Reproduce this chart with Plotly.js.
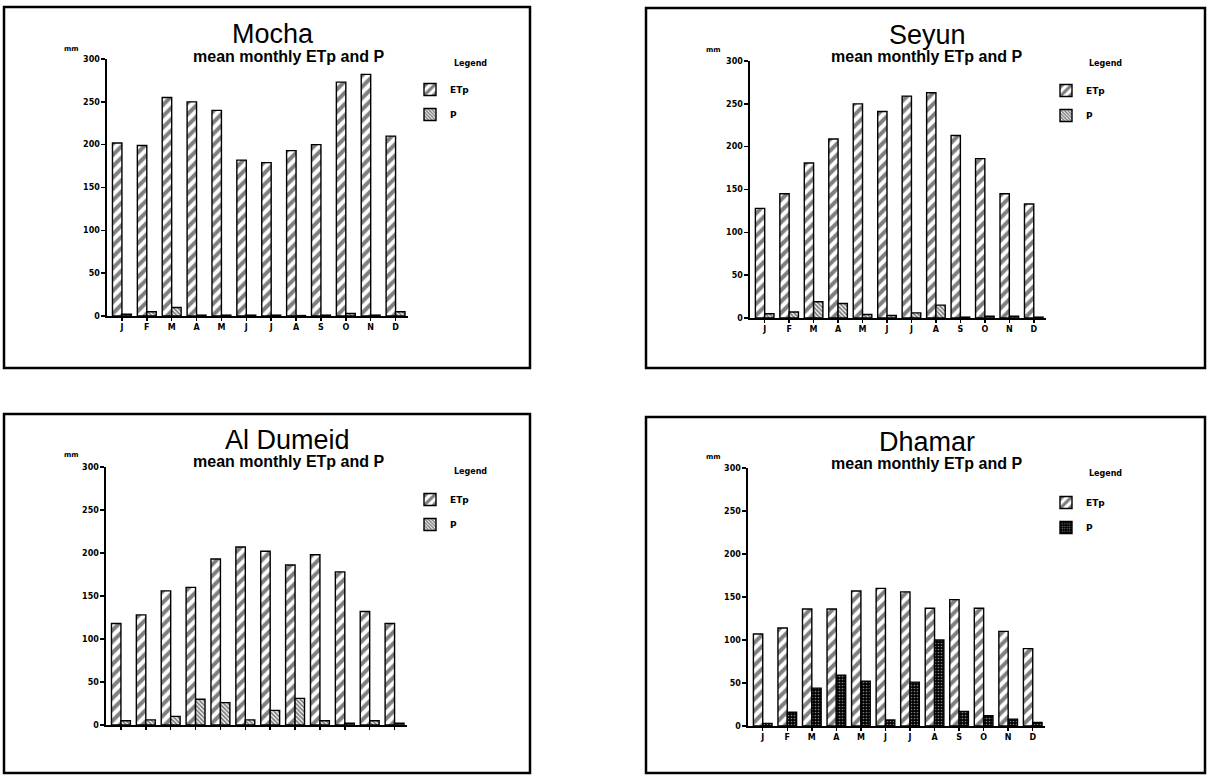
<!DOCTYPE html>
<html>
<head>
<meta charset="utf-8">
<script src="https://cdn.plot.ly/plotly-3.0.1.min.js"></script>
<style>
html,body{margin:0;padding:0;background:#fff;}
#chart{width:1209px;height:775px;}
</style>
</head>
<body>
<div id="chart"></div>
<script>
// ---- data ----
const months = ['J','F','M','A','M','J','J','A','S','O','N','D'];
const yTicks = [0,50,100,150,200,250,300];

const mochaETp = [202,199,255,250,240,182,179,193,200,273,282,210];
const mochaP   = [2,5,10,1,1,1,1,0.5,1,3,1,5];

const seyunETp = [128,145,181,209,250,241,259,263,213,186,145,133];
const seyunP   = [5,7,19,17,4,3,6,15,1,2,2,1];

const dumeidETp = [118,128,156,160,193,207,202,186,198,178,132,118];
const dumeidP   = [5,6,10,30,26,6,17,31,5,2,5,2];

const dhamarETp = [107,114,136,136,157,160,156,137,147,137,110,90];
const dhamarP   = [3,16,44,59,52,7,51,100,17,12,8,4];

const stations = ['Mocha','Seyun','Al Dumeid','Dhamar'];
const subtitle = 'mean monthly ETp and P';
const unitLabel = 'mm';
const legendLabel = 'Legend';

// ---- layout helpers ----
const W = 1209, H = 775;
const px = v => v / W;
const py = v => 1 - v / H;
const idx = months.map((m, i) => i);

const FONT = 'DejaVu Sans';
const hatchP = {color: '#fff', pattern: {shape: '\\', fgcolor: '#000', size: 3, solidity: 0.6, fillmode: 'overlay'}};
const dotP = {color: '#000', pattern: {shape: '.', fgcolor: '#fff', size: 3, solidity: 0.25, fillmode: 'overlay'}};

const panels = [
  {name: stations[0], etp: mochaETp, p: mochaP, x0: 107, x1: 408, yTop: 59, yBot: 316,
   box: [4, 7, 530, 368], title: [273, 34], sub: [288, 56], mm: [71, 49], leg: [410, 75], legT: [452, 63],
   labels: true, pStyle: hatchP},
  {name: stations[1], etp: seyunETp, p: seyunP, x0: 750, x1: 1046, yTop: 61, yBot: 318,
   box: [646, 8, 1205, 368], title: [927, 35], sub: [926, 57], mm: [713, 50], leg: [1046, 76], legT: [1087, 64],
   labels: true, pStyle: hatchP},
  {name: stations[2], etp: dumeidETp, p: dumeidP, x0: 106, x1: 407, yTop: 467, yBot: 725,
   box: [4, 414, 530, 773], title: [287, 440], sub: [288, 462], mm: [71, 455], leg: [410, 485], legT: [452, 471],
   labels: false, pStyle: hatchP},
  {name: stations[3], etp: dhamarETp, p: dhamarP, x0: 748, x1: 1045, yTop: 468, yBot: 726,
   box: [646, 417, 1205, 773], title: [927, 442], sub: [926, 463], mm: [713, 457], leg: [1046, 488], legT: [1087, 474],
   labels: true, pStyle: dotP}
];

const data = [];
const layout = {
  width: W, height: H,
  margin: {l: 0, r: 0, t: 0, b: 0},
  paper_bgcolor: '#fff', plot_bgcolor: 'rgba(0,0,0,0)',
  barmode: 'group', bargap: 0.24, bargroupgap: 0,
  font: {family: FONT, color: '#000'},
  shapes: [], annotations: []
};

panels.forEach((pn, k) => {
  const n = k === 0 ? '' : String(k + 1);
  const xa = 'x' + n, ya = 'y' + n;
  const leg = 'legend' + n;

  layout['xaxis' + n] = {
    domain: [px(pn.x0), px(pn.x1)], range: [-0.6, 11.5], anchor: ya,
    tickmode: 'array', tickvals: idx, ticktext: pn.labels ? months : months.map(() => ''),
    ticks: 'outside', ticklen: 3, tickwidth: 1.5, tickcolor: '#000',
    showline: true, linecolor: '#000', linewidth: 1.6,
    showgrid: false, zeroline: false, fixedrange: true,
    tickfont: {family: FONT, size: 8, weight: 'bold', color: '#000'}
  };
  layout['yaxis' + n] = {
    domain: [py(pn.yBot), py(pn.yTop)], range: [0, 300], anchor: xa,
    tickmode: 'array', tickvals: yTicks,
    ticks: 'outside', ticklen: 4, tickwidth: 1.5, tickcolor: '#000',
    showline: true, linecolor: '#000', linewidth: 1.6,
    showgrid: false, zeroline: false, fixedrange: true,
    tickfont: {family: FONT, size: 8, weight: 'bold', color: '#000'}
  };

  data.push({
    type: 'bar', name: 'ETp', x: idx, y: pn.etp, xaxis: xa, yaxis: ya,
    legend: leg, legendgroup: 'etp' + k,
    marker: {color: '#fff', line: {color: '#000', width: 1.4},
      pattern: {shape: '/', fgcolor: '#000', size: 8, solidity: 0.5, fillmode: 'overlay'}},
    hoverinfo: 'skip'
  });
  data.push({
    type: 'bar', name: 'P', x: idx, y: pn.p, xaxis: xa, yaxis: ya,
    legend: leg, legendgroup: 'p' + k,
    marker: {color: pn.pStyle.color, line: {color: '#000', width: 1.4}, pattern: pn.pStyle.pattern},
    hoverinfo: 'skip'
  });

  layout[leg] = {
    x: px(pn.leg[0]), y: py(pn.leg[1]), xanchor: 'left', yanchor: 'top',
    xref: 'paper', yref: 'paper',
    bgcolor: 'rgba(0,0,0,0)', borderwidth: 0,
    font: {family: FONT, size: 9, weight: 'bold', color: '#000'},
    traceorder: 'grouped', tracegroupgap: 6, itemclick: false, itemdoubleclick: false
  };

  layout.shapes.push({type: 'rect', xref: 'paper', yref: 'paper',
    x0: px(pn.box[0]), x1: px(pn.box[2]), y0: py(pn.box[3]), y1: py(pn.box[1]),
    line: {color: '#000', width: 2.5}, fillcolor: 'rgba(0,0,0,0)'});

  layout.annotations.push(
    {text: pn.name, xref: 'paper', yref: 'paper', x: px(pn.title[0]), y: py(pn.title[1]),
     xanchor: 'center', yanchor: 'middle', showarrow: false,
     font: {family: 'Liberation Sans', size: 27, color: '#000'}},
    {text: subtitle, xref: 'paper', yref: 'paper', x: px(pn.sub[0]), y: py(pn.sub[1]),
     xanchor: 'center', yanchor: 'middle', showarrow: false,
     font: {family: 'Liberation Sans', size: 16, weight: 'bold', color: '#000'}},
    {text: unitLabel, xref: 'paper', yref: 'paper', x: px(pn.mm[0]), y: py(pn.mm[1]),
     xanchor: 'center', yanchor: 'middle', showarrow: false,
     font: {family: FONT, size: 7, weight: 'bold', color: '#000'}},
    {text: legendLabel, xref: 'paper', yref: 'paper', x: px(pn.legT[0]), y: py(pn.legT[1]),
     xanchor: 'left', yanchor: 'middle', showarrow: false,
     font: {family: FONT, size: 8, weight: 'bold', color: '#000'}}
  );
});

Plotly.newPlot('chart', data, layout, {displayModeBar: false, staticPlot: true});
</script>
</body>
</html>
